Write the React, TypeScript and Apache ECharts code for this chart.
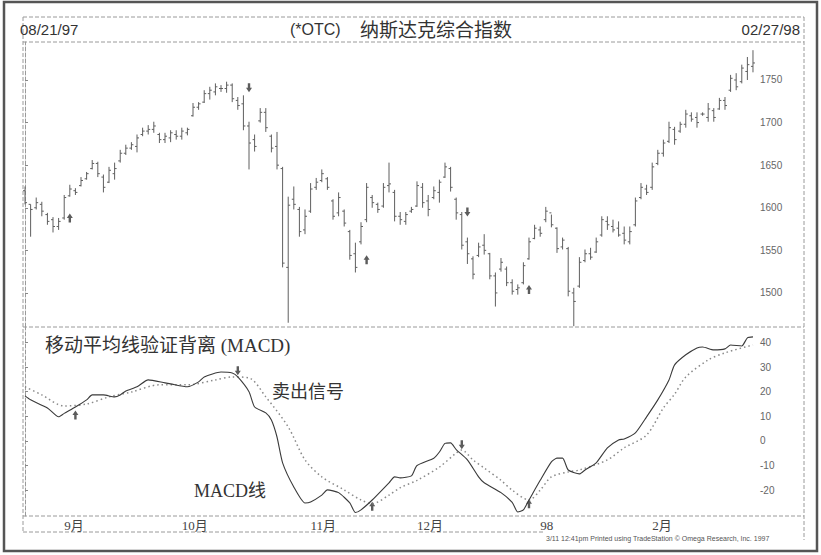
import React, { useEffect, useRef } from "react";
import * as echarts from "echarts";

// Daily bars, 08/21/97 .. 02/27/98 (index 0..130)
const barHigh = [
  1625, 1604, 1612, 1607, 1594, 1589, 1588, 1615, 1627, 1623,
  1636, 1642, 1656, 1654, 1639, 1648, 1653, 1668, 1674, 1677,
  1686, 1694, 1697, 1701, 1688, 1688, 1691, 1691, 1694, 1694,
  1723, 1724, 1738, 1742, 1746, 1744, 1748, 1746, 1730, 1732,
  1701, 1686, 1717, 1717, 1686, 1689, 1648, 1613, 1625, 1601,
  1598, 1629, 1635, 1645, 1636, 1610, 1618, 1598, 1574, 1559,
  1583, 1629, 1615, 1606, 1629, 1653, 1621, 1595, 1595, 1601,
  1631, 1629, 1615, 1625, 1633, 1653, 1648, 1612, 1595, 1565,
  1543, 1559, 1569, 1547, 1524, 1541, 1531, 1516, 1510, 1536,
  1565, 1580, 1578, 1601, 1592, 1577, 1565, 1554, 1506, 1542,
  1551, 1553, 1565, 1590, 1590, 1586, 1584, 1578, 1578, 1612,
  1629, 1627, 1653, 1668, 1680, 1701, 1695, 1701, 1715, 1712,
  1712, 1712, 1723, 1717, 1729, 1730, 1756, 1758, 1768, 1777,
  1785,
];
const barLow = [
  1604, 1566, 1598, 1590, 1580, 1571, 1574, 1586, 1613, 1615,
  1625, 1633, 1645, 1636, 1618, 1629, 1633, 1653, 1662, 1668,
  1665, 1684, 1686, 1688, 1676, 1676, 1677, 1680, 1680, 1685,
  1707, 1715, 1723, 1727, 1732, 1736, 1735, 1724, 1715, 1691,
  1645, 1666, 1700, 1689, 1665, 1645, 1530, 1465, 1598, 1566,
  1569, 1594, 1621, 1630, 1621, 1586, 1590, 1578, 1539, 1524,
  1557, 1583, 1600, 1594, 1600, 1618, 1584, 1580, 1580, 1594,
  1601, 1600, 1590, 1610, 1606, 1635, 1619, 1586, 1551, 1534,
  1516, 1542, 1545, 1516, 1484, 1525, 1508, 1498, 1498, 1510,
  1539, 1563, 1566, 1583, 1577, 1547, 1551, 1496, 1461, 1506,
  1536, 1539, 1547, 1566, 1574, 1571, 1566, 1557, 1557, 1578,
  1610, 1615, 1621, 1650, 1660, 1676, 1674, 1688, 1694, 1701,
  1694, 1708, 1701, 1701, 1715, 1715, 1736, 1738, 1746, 1750,
  1759,
];
const barOpen = [
  1620, 1604, 1600, 1604, 1592, 1586, 1578, 1588, 1614, 1620,
  1626, 1634, 1646, 1652, 1636, 1630, 1640, 1655, 1664, 1670,
  1672, 1686, 1690, 1692, 1686, 1680, 1682, 1686, 1684, 1688,
  1708, 1718, 1724, 1734, 1736, 1740, 1740, 1744, 1726, 1722,
  1696, 1680, 1702, 1712, 1684, 1672, 1646, 1530, 1610, 1598,
  1574, 1596, 1624, 1632, 1634, 1608, 1594, 1596, 1572, 1546,
  1560, 1586, 1612, 1604, 1602, 1626, 1618, 1590, 1584, 1596,
  1602, 1624, 1608, 1612, 1618, 1636, 1646, 1610, 1592, 1560,
  1540, 1544, 1556, 1546, 1520, 1528, 1528, 1512, 1504, 1512,
  1540, 1564, 1574, 1586, 1594, 1576, 1554, 1552, 1500, 1508,
  1538, 1546, 1548, 1568, 1584, 1578, 1576, 1570, 1560, 1580,
  1612, 1622, 1624, 1652, 1664, 1678, 1692, 1690, 1698, 1708,
  1706, 1710, 1706, 1714, 1716, 1726, 1738, 1750, 1748, 1760,
  1766,
];
const barClose = [
  1606, 1598, 1606, 1596, 1584, 1578, 1584, 1612, 1622, 1618,
  1632, 1640, 1652, 1640, 1624, 1644, 1646, 1664, 1670, 1674,
  1682, 1690, 1692, 1696, 1680, 1684, 1688, 1684, 1690, 1692,
  1718, 1722, 1734, 1738, 1742, 1740, 1744, 1728, 1720, 1696,
  1676, 1672, 1712, 1694, 1670, 1650, 1535, 1603, 1604, 1572,
  1590, 1622, 1630, 1640, 1624, 1590, 1612, 1582, 1544, 1530,
  1578, 1624, 1606, 1598, 1624, 1628, 1590, 1586, 1592, 1598,
  1626, 1606, 1598, 1620, 1630, 1648, 1624, 1594, 1556, 1546,
  1522, 1554, 1550, 1520, 1500, 1536, 1512, 1502, 1506, 1532,
  1560, 1576, 1570, 1596, 1580, 1552, 1562, 1502, 1490, 1536,
  1546, 1542, 1560, 1586, 1580, 1574, 1568, 1562, 1572, 1608,
  1624, 1618, 1648, 1664, 1676, 1694, 1680, 1698, 1710, 1704,
  1700, 1710, 1716, 1706, 1726, 1720, 1752, 1742, 1764, 1768,
  1770,
];

const monthTickIndex = [7, 28, 51, 70, 92, 112];
const monthTickLabel = ["9月", "10月", "11月", "12月", "98", "2月"];
const priceTicks = [1500, 1550, 1600, 1650, 1700, 1750];
const macdTicks = [-20, -10, 0, 10, 20, 30, 40];

// [bar index, value]
const macdLine = [
  [0, 18.3], [1, 16.7], [4, 13.4], [6, 9.8], [7, 11.2], [9, 13.8], [11, 16.7], [12, 18.7],
  [14, 18.7], [16, 17.9], [17, 18.7], [18, 20.3], [20, 22], [22, 24.8], [25, 23.6], [26, 23.2],
  [29, 22], [31, 24], [32, 26], [35, 28], [37, 27.6], [38, 26], [40, 20], [41, 13.8],
  [43, 11.4], [44, 8.5], [45, 1.6], [46, -8.9], [48, -18.7], [50, -25.2], [51, -24.8],
  [53, -22], [54, -19.9], [56, -21], [58, -25.2], [59, -29.1], [60, -28], [62, -24],
  [65, -17], [66, -14.6], [67, -15], [69, -14.2], [70, -10], [73, -7], [74, -4.5], [75, -1],
  [76, -0.8], [77, -3.5], [79, -7.7], [81, -14.6], [82, -17], [85, -21], [87, -25],
  [88, -28.9], [89, -28], [90, -24], [92, -16], [94, -8.5], [95, -7], [96, -7], [97, -11.8],
  [99, -13.4], [100, -11.8], [102, -8.9], [104, -2.8], [106, 0.4], [107, 0.8], [109, 3.3],
  [111, 9.8], [113, 16.7], [115, 24.8], [116, 30.9], [118, 35], [120, 37.8], [121, 38.2],
  [123, 37], [125, 37.4], [126, 39], [128, 38.6], [129, 41.9], [130, 42.3],
];
const signalLine = [
  [0, 22], [3, 18.7], [7, 14.2], [11, 15], [15, 17.9], [19, 19.9], [24, 22.8], [29, 22.8],
  [34, 24.8], [37, 26], [40, 25.6], [43, 17.9], [47, 5.7], [50, -7.7], [53, -14.6],
  [57, -19.9], [60, -24], [62, -25.5], [65, -22], [67, -19], [70, -16], [74, -10.6],
  [77, -4.9], [78, -3.7], [80, -7.7], [82, -11], [85, -16], [87, -20], [90, -24], [92, -20],
  [94, -14.6], [97, -12.6], [99, -11.8], [104, -7.7], [107, -2.8], [111, 2.4], [114, 13.4],
  [116, 19], [118, 26], [122, 32.9], [125, 35.8], [130, 39],
];

const priceUpSignals = [[8, 1588], [61, 1539], [90, 1504]];
const priceDownSignals = [[40, 1741], [79, 1595]];
const macdUpSignals = [[9, 10.5], [62, -26.5], [90, -25.5]];
const macdDownSignals = [[38, 28.5], [78, -1.5]];

const UP_ARROW = "path://M5,0 L10,6 L7,6 L7,12 L3,12 L3,6 L0,6 Z";
const DOWN_ARROW = "path://M3,0 L7,0 L7,6 L10,6 L5,12 L0,6 L3,6 Z";

const SERIF_CJK = "'Liberation Serif', 'DejaVu Serif', 'Noto Sans CJK SC', serif";
const SANS = "'Liberation Sans', Arial, sans-serif";

export default function App() {
  const ref = useRef<HTMLDivElement>(null);

  useEffect(() => {
    if (!ref.current) return;
    const chart = echarts.init(ref.current, null, { renderer: "svg", width: 821, height: 555 });

    const ohlc = barHigh.map((h, i) => [i, barOpen[i], h, barLow[i], barClose[i]]);
    const frame = { stroke: "#9a9a9a", lineWidth: 1, lineDash: [4, 2] };
    const hline = (y: number, x1: number, x2: number) => ({
      type: "line", silent: true, shape: { x1, y1: y, x2, y2: y }, style: frame,
    });
    const vline = (x: number, y1: number, y2: number) => ({
      type: "line", silent: true, shape: { x1: x, y1, x2: x, y2 }, style: frame,
    });

    const xBase = { type: "value", min: -0.36, max: 130.36, splitLine: { show: false } };
    const plain = (v: number) => String(v);

    chart.setOption({
      animation: false,
      backgroundColor: "#ffffff",
      grid: [
        { left: 23, top: 42, right: 66, height: 285 },
        { left: 23, top: 327, right: 66, height: 189 },
      ],
      xAxis: [
        { ...xBase, gridIndex: 0, show: false },
        {
          ...xBase, gridIndex: 1,
          axisLine: { show: false, onZero: false },
          axisTick: { show: false },
          axisLabel: {
            customValues: monthTickIndex,
            formatter: (v: number) => {
              const k = monthTickIndex.indexOf(Math.round(v));
              return k >= 0 ? monthTickLabel[k] : "";
            },
            align: "left",
            margin: 3,
            color: "#444",
            fontSize: 13,
            fontFamily: SERIF_CJK,
          },
        },
      ],
      yAxis: [
        {
          type: "value", gridIndex: 0, position: "right", min: 1460, max: 1794.6,
          splitLine: { show: false },
          axisLine: { show: true, lineStyle: { color: "#9a9a9a", type: [4, 2] } },
          axisTick: { show: true, customValues: priceTicks, length: 3, lineStyle: { color: "#888" } },
          axisLabel: { customValues: priceTicks, formatter: plain, color: "#666", fontSize: 10, fontFamily: SANS, margin: 5 },
        },
        {
          type: "value", gridIndex: 1, position: "right", min: -30.5, max: 46.3,
          splitLine: { show: false },
          axisLine: { show: true, lineStyle: { color: "#9a9a9a", type: [4, 2] } },
          axisTick: { show: true, customValues: macdTicks, length: 3, lineStyle: { color: "#888" } },
          axisLabel: { customValues: macdTicks, formatter: plain, color: "#666", fontSize: 10, fontFamily: SANS, margin: 5 },
        },
      ],
      series: [
        {
          type: "custom",
          xAxisIndex: 0,
          yAxisIndex: 0,
          data: ohlc,
          encode: { x: 0, y: [1, 2, 3, 4] },
          renderItem: (params: any, api: any) => {
            const x = api.value(0);
            const pO = api.coord([x, api.value(1)]);
            const pH = api.coord([x, api.value(2)]);
            const pL = api.coord([x, api.value(3)]);
            const pC = api.coord([x, api.value(4)]);
            const st = { stroke: "#5f5f5f", lineWidth: 1 };
            return {
              type: "group",
              children: [
                { type: "line", shape: { x1: pH[0], y1: pH[1], x2: pL[0], y2: pL[1] }, style: st },
                { type: "line", shape: { x1: pO[0] - 2, y1: pO[1], x2: pO[0], y2: pO[1] }, style: st },
                { type: "line", shape: { x1: pC[0], y1: pC[1], x2: pC[0] + 2, y2: pC[1] }, style: st },
              ],
            };
          },
        },
        {
          type: "scatter", xAxisIndex: 0, yAxisIndex: 0, data: priceUpSignals,
          symbol: UP_ARROW, symbolSize: [6, 9], itemStyle: { color: "#333" },
        },
        {
          type: "scatter", xAxisIndex: 0, yAxisIndex: 0, data: priceDownSignals,
          symbol: DOWN_ARROW, symbolSize: [6, 9], itemStyle: { color: "#333" },
        },
        {
          type: "line", xAxisIndex: 1, yAxisIndex: 1, data: signalLine, showSymbol: false,
          smooth: 0.3, lineStyle: { color: "#8a8a8a", width: 1.5, type: [1.5, 3] },
        },
        {
          type: "line", xAxisIndex: 1, yAxisIndex: 1, data: macdLine, showSymbol: false,
          smooth: 0.2, lineStyle: { color: "#3a3a3a", width: 1.1 },
        },
        {
          type: "scatter", xAxisIndex: 1, yAxisIndex: 1, data: macdUpSignals,
          symbol: UP_ARROW, symbolSize: [6, 9], itemStyle: { color: "#333" },
        },
        {
          type: "scatter", xAxisIndex: 1, yAxisIndex: 1, data: macdDownSignals,
          symbol: DOWN_ARROW, symbolSize: [6, 9], itemStyle: { color: "#333" },
        },
      ],
      graphic: [
        {
          type: "rect", silent: true, shape: { x: 4, y: 2, width: 813, height: 549 },
          style: { fill: "none", stroke: "#555", lineWidth: 2.5 },
        },
        hline(17, 23, 804),
        hline(42, 23, 804),
        hline(327, 23, 804),
        hline(516, 23, 804),
        hline(532, 23, 545),
        vline(23, 17, 533),
        vline(804, 17, 540),
        {
          type: "text", left: 20, top: 22,
          style: { text: "08/21/97", fill: "#333", font: `15px ${SANS}` },
        },
        {
          type: "text", right: 21, top: 22,
          style: { text: "02/27/98", fill: "#333", font: `15px ${SANS}` },
        },
        {
          type: "text", x: 290, y: 21,
          style: { text: "(*OTC)", fill: "#333", font: `16px ${SANS}` },
        },
        {
          type: "text", x: 360, y: 19,
          style: { text: "纳斯达克综合指数", fill: "#333", font: `19px 'Noto Sans CJK SC', sans-serif` },
        },
        {
          type: "text", x: 45, y: 336,
          style: { text: "移动平均线验证背离 (MACD)", fill: "#333", font: `19px ${SERIF_CJK}` },
        },
        {
          type: "text", x: 272, y: 383,
          style: { text: "卖出信号", fill: "#333", font: `18px ${SERIF_CJK}` },
        },
        {
          type: "text", x: 194, y: 482,
          style: { text: "MACD线", fill: "#333", font: `18px ${SERIF_CJK}` },
        },
        {
          type: "text", x: 546, y: 535,
          style: {
            text: "3/11 12:41pm Printed using TradeStation © Omega Research, Inc. 1997",
            fill: "#555", font: `7px ${SANS}`,
          },
        },
      ],
    });

    return () => chart.dispose();
  }, []);

  return (
    <div
      ref={ref}
      style={{ position: "fixed", left: 0, top: 0, width: 821, height: 555, background: "#fff" }}
    />
  );
}
